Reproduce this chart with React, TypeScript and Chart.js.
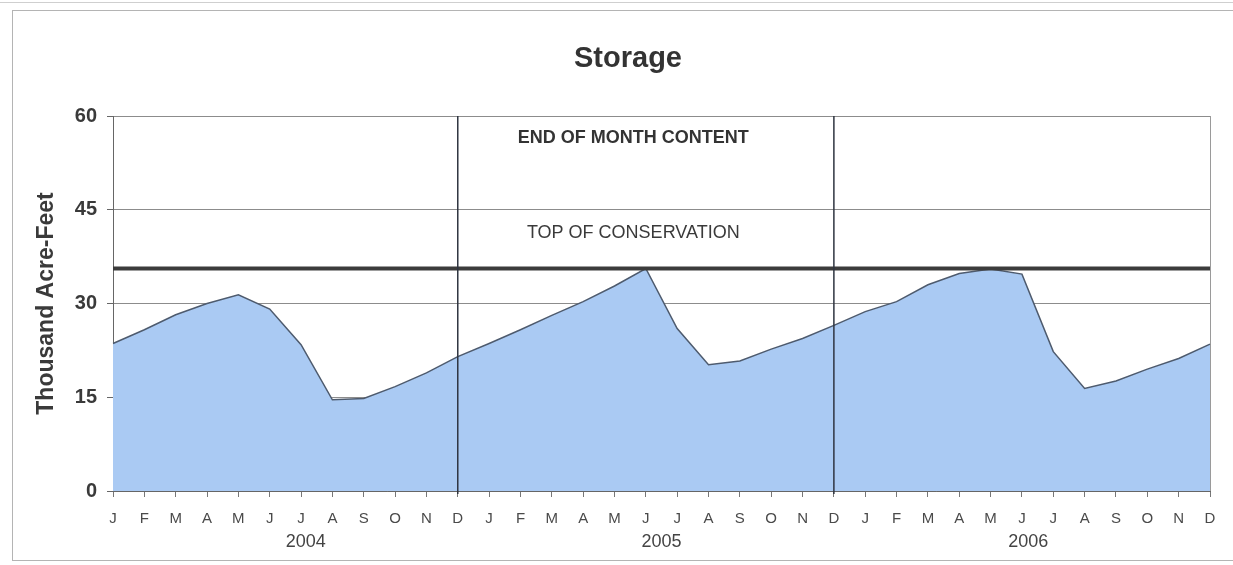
import React, { useEffect, useRef } from "react";
import { Chart, registerables } from "chart.js";

Chart.register(...registerables);

const years = ["2004", "2005", "2006"];
const monthLetters = ["J", "F", "M", "A", "M", "J", "J", "A", "S", "O", "N", "D"];
const storage2004 = [23.6, 25.8, 28.2, 30.0, 31.4, 29.1, 23.4, 14.6, 14.8, 16.7, 18.9, 21.5];
const storage2005 = [23.6, 25.8, 28.1, 30.3, 32.8, 35.6, 26.0, 20.2, 20.8, 22.7, 24.4, 26.5];
const storage2006 = [28.7, 30.3, 33.0, 34.8, 35.5, 34.7, 22.3, 16.4, 17.6, 19.5, 21.2, 23.5];
const topOfConservation = 35.6;
const yTicks = [0, 15, 30, 45, 60];

const labels = years.flatMap(() => monthLetters);
const storage = [...storage2004, ...storage2005, ...storage2006];
const conservationLine = labels.map(() => topOfConservation);

// layout-only constants
const separatorIndexes = [11, 23];
const yearLabelPositions = [6.15, 17.5, 29.2];
const FONT = '"Liberation Sans", Arial, sans-serif';

const overlayPlugin = {
  id: "overlay",
  beforeDatasetsDraw(chart: any) {
    const { ctx, chartArea } = chart;
    ctx.save();
    ctx.strokeStyle = "#9a9a9a";
    ctx.lineWidth = 1;
    ctx.beginPath();
    ctx.moveTo(Math.round(chartArea.right) + 0.5, chartArea.top);
    ctx.lineTo(Math.round(chartArea.right) + 0.5, chartArea.bottom);
    ctx.stroke();
    ctx.restore();
  },
  afterDatasetsDraw(chart: any) {
    const { ctx, chartArea, scales } = chart;
    const x = scales.x;
    const y = scales.y;
    ctx.save();
    ctx.strokeStyle = "#2e3440";
    ctx.lineWidth = 1.5;
    for (const idx of separatorIndexes) {
      const px = x.getPixelForValue(idx);
      ctx.beginPath();
      ctx.moveTo(px, chartArea.top);
      ctx.lineTo(px, chartArea.bottom + 3);
      ctx.stroke();
    }
    const cx = x.getPixelForValue(16.6);
    ctx.fillStyle = "#333333";
    ctx.textAlign = "center";
    ctx.textBaseline = "alphabetic";
    ctx.font = `bold 18px ${FONT}`;
    ctx.fillText("END OF MONTH CONTENT", cx, y.getPixelForValue(55.7));
    ctx.fillStyle = "#3a3a3a";
    ctx.font = `18px ${FONT}`;
    ctx.fillText("TOP OF CONSERVATION", cx, y.getPixelForValue(40.5));
    ctx.restore();
  },
  afterDraw(chart: any) {
    const { ctx, chartArea, scales } = chart;
    const x = scales.x;
    ctx.save();
    ctx.textAlign = "center";
    ctx.textBaseline = "alphabetic";
    ctx.fillStyle = "#333333";
    ctx.font = `bold 29px ${FONT}`;
    ctx.fillText("Storage", 628, 67);
    ctx.fillStyle = "#444444";
    ctx.font = `18px ${FONT}`;
    years.forEach((yr, i) => {
      ctx.fillText(yr, x.getPixelForValue(yearLabelPositions[i]), chartArea.bottom + 56);
    });
    ctx.restore();
  },
};

export default function App() {
  const canvasRef = useRef<HTMLCanvasElement | null>(null);

  useEffect(() => {
    if (!canvasRef.current) return;
    const chart = new Chart(canvasRef.current, {
      type: "line",
      data: {
        labels,
        datasets: [
          {
            label: "Top of Conservation",
            data: conservationLine,
            borderColor: "#3c3c3c",
            borderWidth: 4,
            pointRadius: 0,
            fill: false,
          },
          {
            label: "End of Month Content",
            data: storage,
            borderColor: "#4e5b6e",
            borderWidth: 1.5,
            backgroundColor: "#aacaf3",
            pointRadius: 0,
            fill: "origin",
            tension: 0,
          },
        ],
      },
      options: {
        responsive: false,
        animation: false,
        devicePixelRatio: 1,
        layout: { padding: { top: 116, right: 23, bottom: 0, left: 0 } },
        plugins: {
          legend: { display: false },
          tooltip: { enabled: false },
          title: { display: false },
        },
        scales: {
          x: {
            type: "category",
            offset: false,
            afterFit: (scale: any) => {
              scale.height = 74;
            },
            grid: {
              display: true,
              drawOnChartArea: false,
              drawTicks: true,
              tickLength: 6,
              tickColor: "#777777",
              color: "rgba(0,0,0,0)",
            },
            border: { display: true, color: "#666666", width: 1 },
            ticks: {
              autoSkip: false,
              maxRotation: 0,
              minRotation: 0,
              padding: 13,
              color: "#4a4a4a",
              font: { family: FONT, size: 15 },
            },
          },
          y: {
            min: 0,
            max: 60,
            afterFit: (scale: any) => {
              scale.width = 113;
            },
            afterBuildTicks: (scale: any) => {
              scale.ticks = yTicks.map((v) => ({ value: v }));
            },
            grid: {
              color: "#8c8c8c",
              lineWidth: 1,
              drawTicks: true,
              tickLength: 6,
              tickColor: "#666666",
            },
            border: { display: true, color: "#666666", width: 1 },
            ticks: {
              padding: 10,
              color: "#3a3a3a",
              font: { family: FONT, size: 20, weight: "bold" },
            },
            title: {
              display: true,
              text: "Thousand Acre-Feet",
              color: "#3a3a3a",
              font: { family: FONT, size: 23, weight: "bold" },
              padding: { top: 33, bottom: 0 },
            },
          },
        },
      },
      plugins: [overlayPlugin],
    });
    return () => chart.destroy();
  }, []);

  return (
    <div style={{ position: "absolute", left: 0, top: 0, width: 1233, height: 565, overflow: "hidden", background: "#ffffff" }}>
      <div style={{ position: "absolute", left: 0, top: 2, width: 1233, height: 0, borderTop: "1px solid #cfcfcf" }} />
      <div style={{ position: "absolute", left: 12, top: 10, width: 1240, height: 549, border: "1.5px solid #b4b4b4" }} />
      <canvas ref={canvasRef} width={1233} height={565} style={{ position: "absolute", left: 0, top: 0, width: 1233, height: 565 }} />
    </div>
  );
}
